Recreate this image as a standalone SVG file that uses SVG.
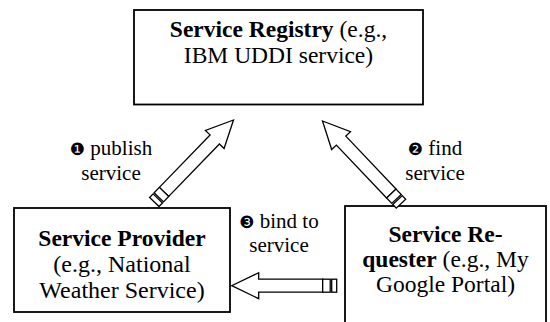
<svg xmlns="http://www.w3.org/2000/svg" width="550" height="322" viewBox="0 0 550 322">
<style>
.box{fill:#fff;stroke:#000;stroke-width:1.8}
.t{font-family:"Liberation Serif","Times New Roman",serif;font-size:23.5px;fill:#000;text-anchor:middle}
.b{font-weight:bold}
.lbl{font-family:"Liberation Serif","Times New Roman",serif;font-size:21px;fill:#000;text-anchor:middle}
.num{font-family:"DejaVu Sans",sans-serif;font-size:17px}
.arr{fill:#fff;stroke:#000;stroke-width:1.3;stroke-linejoin:miter}
</style>
<defs>
<g id="arrowH">
<path class="arr" d="M0,0 L-27,-13 L-27,-6.5 L-91,-6.5 L-91,6.5 L-27,6.5 L-27,13 Z"/>
<rect class="arr" x="-98.5" y="-6.5" width="7.5" height="13"/>
<rect class="arr" x="-105" y="-6.5" width="5" height="13"/>
</g>
<g id="arrowD">
<path class="arr" d="M0,0 L-27,-13 L-27,-6.5 L-100,-6.5 L-100,6.5 L-27,6.5 L-27,13 Z"/>
<rect class="arr" x="-107.5" y="-6.5" width="7.5" height="13"/>
<rect class="arr" x="-114" y="-6.5" width="5" height="13"/>
</g>
</defs>
<rect width="550" height="322" fill="#fff"/>
<g id="registry">
<rect class="box" x="134" y="10" width="289" height="94.5"/>
<text class="t" x="278.5" y="37"><tspan class="b">Service Registry</tspan> (e.g.,</text>
<text class="t" x="278.5" y="63">IBM UDDI service)</text>
</g>
<g id="provider">
<rect class="box" x="14" y="208" width="216" height="104"/>
<text class="t b" x="122" y="246">Service Provider</text>
<text class="t" x="122" y="272" style="font-size:24px">(e.g., National</text>
<text class="t" x="122" y="298" style="font-size:24px">Weather Service)</text>
</g>
<g id="requester">
<rect class="box" x="345" y="206" width="201" height="130"/>
<text class="t b" x="445.5" y="242">Service Re-</text>
<text class="t" x="445.5" y="267"><tspan class="b">quester</tspan> (e.g., My</text>
<text class="t" x="445.5" y="292">Google Portal)</text>
</g>
<g id="connectors">
<use href="#arrowD" transform="translate(233.5,120) rotate(-46)"/>
<use href="#arrowD" transform="translate(322.5,121) rotate(-133.5)"/>
<use href="#arrowH" transform="translate(231.7,285.7) rotate(180)"/>
<text class="lbl" x="111" y="155"><tspan class="num">❶</tspan> publish</text>
<text class="lbl" x="111" y="180">service</text>
<text class="lbl" x="435" y="155"><tspan class="num">❷</tspan> find</text>
<text class="lbl" x="435" y="180">service</text>
<text class="lbl" x="279" y="228"><tspan class="num">❸</tspan> bind to</text>
<text class="lbl" x="279" y="252">service</text>
</g>
</svg>
